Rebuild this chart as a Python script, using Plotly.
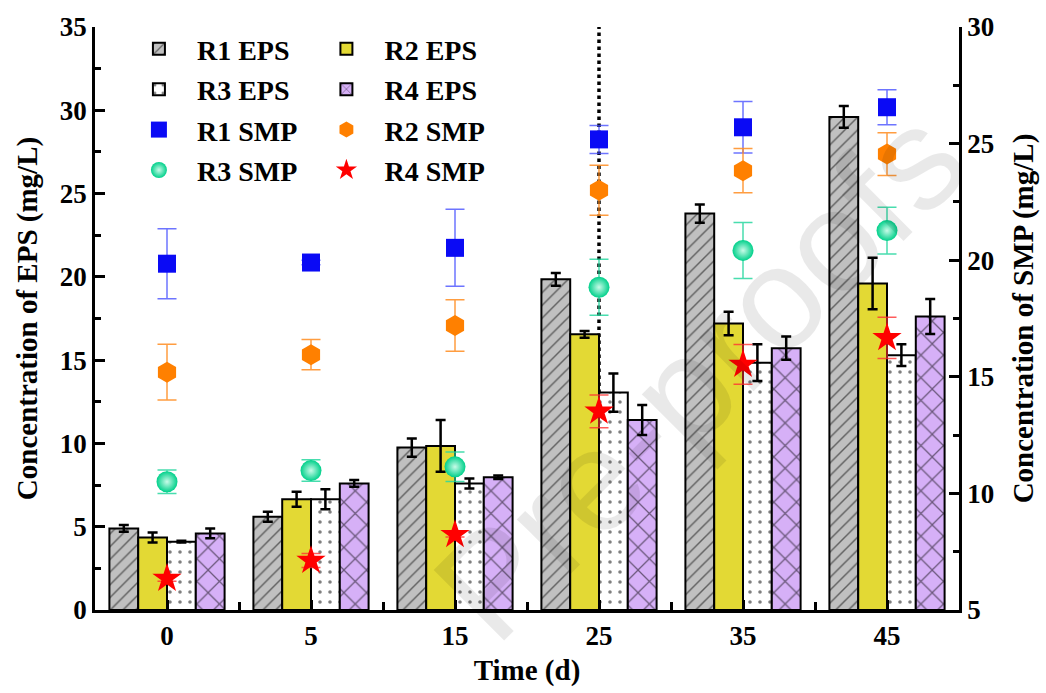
import plotly.graph_objects as go

categories = ["0", "5", "15", "25", "35", "45"]

r1_eps = [4.9, 5.6, 9.75, 19.85, 23.8, 29.6]
r1_eps_err = [0.2, 0.3, 0.55, 0.38, 0.55, 0.65]
r2_eps = [4.35, 6.65, 9.85, 16.55, 17.2, 19.6]
r2_eps_err = [0.3, 0.45, 1.55, 0.2, 0.7, 1.55]
r3_eps = [4.1, 6.65, 7.6, 13.05, 14.85, 15.3]
r3_eps_err = [0.05, 0.6, 0.3, 1.15, 1.1, 0.65]
r4_eps = [4.6, 7.6, 7.97, 11.4, 15.72, 17.62]
r4_eps_err = [0.3, 0.2, 0.1, 0.9, 0.7, 1.05]

r1_smp = [19.85, 19.9, 20.53, 25.18, 25.7, 26.56]
r1_smp_err = [1.5, 0.1, 1.65, 0.6, 1.1, 0.75]
r2_smp = [15.2, 15.95, 17.2, 23.0, 23.84, 24.55]
r2_smp_err = [1.2, 0.65, 1.1, 1.07, 0.95, 0.92]
r3_smp = [10.5, 10.98, 11.14, 18.84, 20.42, 21.27]
r3_smp_err = [0.5, 0.46, 0.63, 1.2, 1.2, 1.0]
r4_smp = [6.35, 7.12, 8.23, 13.52, 15.53, 16.67]
r4_smp_err = [0.12, 0.3, 0.1, 0.7, 0.85, 0.88]

marked_time = "25"

xpos = list(range(len(categories)))
FONT = "Liberation Serif"

fig = go.Figure()

bar_specs = [
    ("R1 EPS", r1_eps, r1_eps_err, "#C0C0C0", "/", 9, 0.16, "legend"),
    ("R2 EPS", r2_eps, r2_eps_err, "#E3D934", "", 8, 0.1, "legend2"),
    ("R3 EPS", r3_eps, r3_eps_err, "#FFFFFF", ".", 10, 0.1, "legend"),
    ("R4 EPS", r4_eps, r4_eps_err, "#D6B0F7", "x", 16, 0.15, "legend2"),
]
for name, vals, errs, col, shape, size, sol, leg in bar_specs:
    fig.add_trace(go.Bar(
        x=xpos, y=vals, name=name, legend=leg, legendgroup=name,
        marker=dict(color=col, line=dict(color="black", width=2),
                    pattern=dict(shape=shape, fgcolor="black", bgcolor=col,
                                 size=size, solidity=sol)),
        error_y=dict(type="data", array=errs, color="black", thickness=2.5, width=5),
        yaxis="y",
    ))

smp_specs = [
    ("R1 SMP", r1_smp, r1_smp_err, "#0A0AF5", "rgba(60,70,255,0.75)", "square", 18, "legend", None),
    ("R2 SMP", r2_smp, r2_smp_err, "#FF8000", "rgba(255,140,30,0.85)", "hexagon", 21, "legend2", None),
    ("R3 SMP", r3_smp, r3_smp_err, "#00D08A", "rgba(40,215,160,0.85)", "circle", 21, "legend",
     dict(type="radial", color="#C8FBE8")),
    ("R4 SMP", r4_smp, r4_smp_err, "#FF0000", "rgba(255,50,50,0.8)", "star", 22, "legend2", None),
]
for name, vals, errs, col, ecol, sym, sz, leg, grad in smp_specs:
    mk = dict(color=col, symbol=sym, size=sz, line=dict(width=0))
    if grad:
        mk["gradient"] = grad
    fig.add_trace(go.Scatter(
        x=xpos, y=vals, name=name, legend=leg, legendgroup=name, mode="markers",
        marker=mk,
        error_y=dict(type="data", array=errs, color=ecol, thickness=1.5, width=9.5),
        yaxis="y2",
    ))

mx = categories.index(marked_time)
fig.add_shape(type="line", xref="x", yref="paper", x0=mx, x1=mx, y0=0, y1=1,
              line=dict(color="black", width=3.5, dash="dot"), layer="below")

fig.add_annotation(text="Pre-proofs", xref="paper", yref="paper", x=0.70, y=0.405,
                   xanchor="center", yanchor="middle",
                   showarrow=False, textangle=-45,
                   font=dict(family="Liberation Sans", size=145, color="rgba(0,0,0,0.085)"))

tickfont = dict(family=FONT, size=27, color="black", weight="bold")
titlefont = dict(family=FONT, size=29, color="black", weight="bold")
legfont = dict(family=FONT, size=28, color="black", weight="bold")

fig.update_layout(
    width=1046, height=693,
    margin=dict(l=95, r=84, t=26, b=80),
    paper_bgcolor="white", plot_bgcolor="white",
    barmode="group", bargap=0.2, bargroupgap=0,
    showlegend=True,
    legend=dict(x=0.03, y=1.005, xanchor="left", yanchor="top", font=legfont,
                bgcolor="rgba(0,0,0,0)", traceorder="grouped", tracegroupgap=1,
                itemwidth=66),
    legend2=dict(x=0.247, y=1.005, xanchor="left", yanchor="top", font=legfont,
                 bgcolor="rgba(0,0,0,0)", traceorder="grouped", tracegroupgap=1,
                 itemwidth=66),
    xaxis=dict(range=[-0.5, len(categories) - 0.5], tickmode="array", tickvals=xpos,
               ticktext=categories, showline=True, linecolor="black", linewidth=2.5,
               ticks="inside", ticklen=10, tickwidth=2.5, tickcolor="black",
               minor=dict(tickmode="array", tickvals=[p + 0.5 for p in xpos[:-1]],
                          ticks="inside", ticklen=8, tickwidth=2.5, tickcolor="black"),
               showgrid=False, zeroline=False, tickfont=tickfont,
               title=dict(text="Time (d)", font=titlefont, standoff=10)),
    yaxis=dict(range=[0, 35], dtick=5, showline=True, linecolor="black", linewidth=2.5,
               ticks="inside", ticklen=10, tickwidth=2.5, tickcolor="black",
               minor=dict(dtick=2.5, ticks="inside", ticklen=6, tickwidth=2.5, tickcolor="black"),
               showgrid=False, zeroline=False, tickfont=tickfont,
               title=dict(text="Concentration of EPS (mg/L)", font=titlefont, standoff=14)),
    yaxis2=dict(range=[5, 30], dtick=5, overlaying="y", side="right",
                showline=True, linecolor="black", linewidth=2.5,
                ticks="inside", ticklen=10, tickwidth=2.5, tickcolor="black",
                minor=dict(dtick=2.5, ticks="inside", ticklen=6, tickwidth=2.5, tickcolor="black"),
                showgrid=False, zeroline=False, tickfont=tickfont,
                title=dict(text="Concentration of SMP (mg/L)", font=titlefont, standoff=20)),
)

fig.write_html("out.html")
